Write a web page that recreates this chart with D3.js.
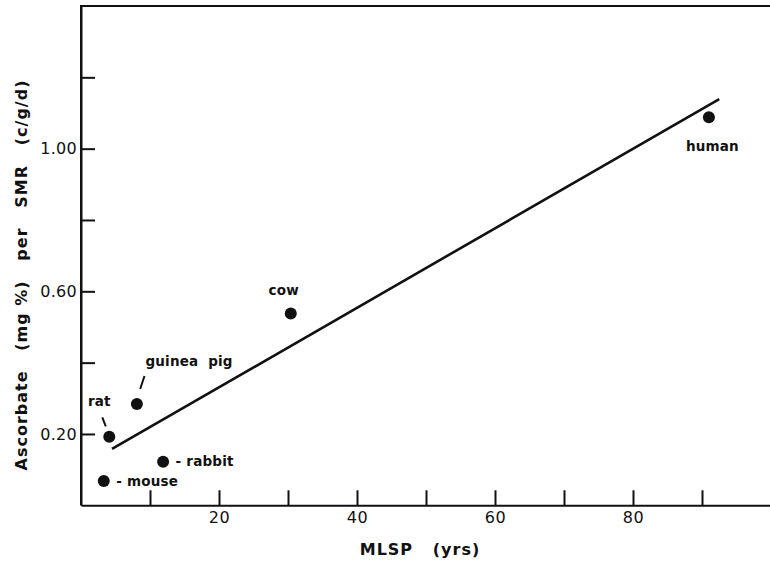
<!DOCTYPE html>
<html>
<head>
<meta charset="utf-8">
<script src="https://cdn.jsdelivr.net/npm/d3@7"></script>
<style>
  html, body { margin: 0; padding: 0; background: #fff; }
  svg { display: block; }
  text { font-family: "DejaVu Sans", sans-serif; fill: #111; white-space: pre; }
</style>
</head>
<body>
<svg id="chart" width="770" height="562"></svg>
<script>
// Ascorbate concentration per specific metabolic rate vs. maximum life span potential
const species   = ["mouse", "rat", "guinea  pig", "rabbit", "cow", "human"];
const mlsp      = [3.3, 4.1, 8.1, 11.9, 30.4, 91.0];          // years
const ascorbate = [0.068, 0.192, 0.284, 0.122, 0.538, 1.088]; // (mg %) per SMR

// regression line end points
const fitX = [4.5, 92.5];
const fitY = [0.158, 1.139];

// axis ticks
const xTicks = [10, 20, 30, 40, 50, 60, 70, 80, 90];
const xTickLabels = [20, 40, 60, 80];
const yTicks = [0.2, 0.4, 0.6, 0.8, 1.0, 1.2];
const yTickLabels = [0.2, 0.6, 1.0];

// label placement around each point (pixel offsets from the dot)
const labelStyle = {
  "mouse":       { text: "- mouse",  dx: 12.5, dy: 5,   anchor: "start" },
  "rabbit":      { text: "- rabbit", dx: 12.5, dy: 4.5, anchor: "start" },
  "rat":         { text: "rat",      dx: -10,  dy: -30.5, anchor: "middle", lead: [-7, -19.5, -3.5, -10.5] },
  "guinea  pig": { text: "guinea  pig", dx: 8.5, dy: -38, anchor: "start", lead: [7.6, -28, 3.3, -15] },
  "cow":         { text: "cow",      dx: -7,   dy: -18, anchor: "middle" },
  "human":       { text: "human",    dx: 3.5,  dy: 34,  anchor: "middle" }
};

const svg = d3.select("#chart");
const plotLeft = 81, plotRight = 771, plotBottom = 505.3, plotTop = 6;

const x = d3.scaleLinear().domain([0, 100]).range([plotLeft, plotRight]);
const y = d3.scaleLinear().domain([0, 1.4]).range([plotBottom, plotTop]);

// frame: left and top edges
svg.append("path")
  .attr("d", `M${plotLeft},${plotBottom}V${y(1.4)}H770`)
  .attr("fill", "none").attr("stroke", "#111").attr("stroke-width", 2);

// x axis
const xAxis = d3.axisBottom(x)
  .tickValues(xTicks)
  .tickSizeInner(-15).tickSizeOuter(0).tickPadding(6)
  .tickFormat(d => xTickLabels.includes(d) ? d : "");
const gx = svg.append("g").attr("transform", `translate(0,${plotBottom})`).call(xAxis);
gx.select(".domain").attr("stroke", "#111").attr("stroke-width", 2);
gx.selectAll(".tick line").attr("stroke", "#111").attr("stroke-width", 2);
gx.selectAll(".tick text").attr("font-size", 16).attr("font-family", "DejaVu Sans").attr("fill", "#111").attr("letter-spacing", 0.5);

// y axis
const yAxis = d3.axisLeft(y)
  .tickValues(yTicks)
  .tickSizeInner(-14).tickSizeOuter(0).tickPadding(4)
  .tickFormat(d => yTickLabels.some(v => Math.abs(v - d) < 1e-9) ? d3.format(".2f")(d) : "");
const gy = svg.append("g").attr("transform", `translate(${plotLeft},0)`).call(yAxis);
gy.select(".domain").attr("stroke", "#111").attr("stroke-width", 2);
gy.selectAll(".tick line").attr("stroke", "#111").attr("stroke-width", 2);
gy.selectAll(".tick text").attr("font-size", 16).attr("font-family", "DejaVu Sans").attr("fill", "#111").attr("letter-spacing", 0.3);

// regression line
svg.append("line")
  .attr("x1", x(fitX[0])).attr("y1", y(fitY[0]))
  .attr("x2", x(fitX[1])).attr("y2", y(fitY[1]))
  .attr("stroke", "#111").attr("stroke-width", 2.6);

// points
const pts = species.map((s, i) => ({ s, x: mlsp[i], y: ascorbate[i] }));
svg.append("g").selectAll("circle").data(pts).join("circle")
  .attr("cx", d => x(d.x)).attr("cy", d => y(d.y)).attr("r", 6)
  .attr("fill", "#111");

// point labels and leaders
pts.forEach(d => {
  const L = labelStyle[d.s];
  const cx = x(d.x), cy = y(d.y);
  svg.append("text")
    .attr("x", cx + L.dx).attr("y", cy + L.dy)
    .attr("text-anchor", L.anchor)
    .attr("font-size", 13.5).attr("font-weight", "bold").attr("letter-spacing", 0.2)
    .text(L.text);
  if (L.lead) {
    svg.append("line")
      .attr("x1", cx + L.lead[0]).attr("y1", cy + L.lead[1])
      .attr("x2", cx + L.lead[2]).attr("y2", cy + L.lead[3])
      .attr("stroke", "#111").attr("stroke-width", 2);
  }
});

// axis titles
svg.append("text")
  .attr("x", 420).attr("y", 555)
  .attr("text-anchor", "middle")
  .attr("font-size", 16).attr("font-weight", "bold").attr("letter-spacing", 1)
  .text("MLSP   (yrs)");

svg.append("text")
  .attr("transform", "translate(27,275) rotate(-90)")
  .attr("text-anchor", "middle")
  .attr("font-size", 16).attr("font-weight", "bold").attr("letter-spacing", 1)
  .text("Ascorbate   (mg %)   per   SMR   (c/g/d)");
</script>
</body>
</html>
